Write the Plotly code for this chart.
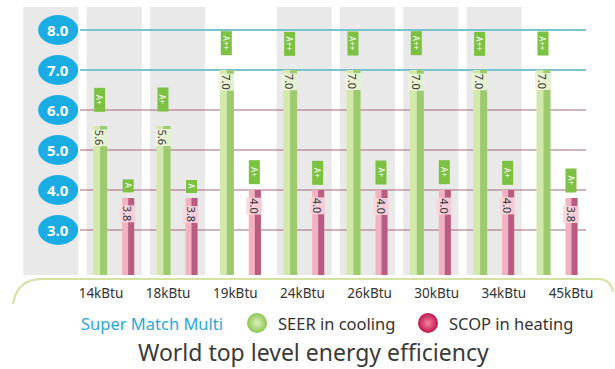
import plotly.graph_objects as go

# ---- data ----
categories = ["14kBtu", "18kBtu", "19kBtu", "24kBtu", "26kBtu", "30kBtu", "34kBtu", "45kBtu"]
seer = [5.6, 5.6, 7.0, 7.0, 7.0, 7.0, 7.0, 7.0]
scop = [3.8, 3.8, 4.0, 4.0, 4.0, 4.0, 4.0, 3.8]
seer_class = ["A+", "A+", "A++", "A++", "A++", "A++", "A++", "A++"]
scop_class = ["A", "A", "A+", "A+", "A+", "A+", "A+", "A+"]
y_ticks = [3.0, 4.0, 5.0, 6.0, 7.0, 8.0]
shaded = [True, True, False, True, True, True, True, False]
series_names = ["SEER in cooling", "SCOP in heating"]

idx = list(range(len(categories)))

# ---- geometry / style ----
W, H = 615, 369
ML, MR, MT, MB = 16, 29, 7, 0
PLOT_BOTTOM = 275                      # page y of the bar baseline
PW = W - ML - MR
PH = H - MT - MB
Y_DOMAIN0 = (H - PLOT_BOTTOM) / PH

Y_MIN, Y_MAX = 1.875, 8.575
X_MIN, X_MAX = -1.55, 7.45
AXIS_COL = -1                          # column holding the round value badges
BAND_HALF = 0.435
SEER_OFF, SEER_W = -0.332, 0.221
SCOP_OFF, SCOP_W = 0.126, 0.19
SEER_C = SEER_OFF + SEER_W / 2
SCOP_C = SCOP_OFF + SCOP_W / 2


def px(x):
    return (x - ML) / PW


def py(y):
    return (H - MB - y) / PH


fig = go.Figure()

# SEER bars: pale body with a darker right-hand stripe
fig.add_bar(x=idx, y=seer, width=SEER_W, offset=SEER_OFF,
            marker=dict(color="#d3e8ab", line_width=0),
            showlegend=False, hoverinfo="skip")
fig.add_bar(x=idx, y=seer, width=SEER_W / 2, offset=SEER_OFF + SEER_W / 2,
            marker=dict(color="#9dca6e", line_width=0),
            showlegend=False, hoverinfo="skip")
# SCOP bars
fig.add_bar(x=idx, y=scop, width=SCOP_W, offset=SCOP_OFF,
            marker=dict(color="#f3b2c2", line_width=0),
            showlegend=False, hoverinfo="skip")
fig.add_bar(x=idx, y=scop, width=SCOP_W / 2, offset=SCOP_OFF + SCOP_W / 2,
            marker=dict(color="#b95c82", line_width=0),
            showlegend=False, hoverinfo="skip")

# invisible trace carrying the category label axis
fig.add_scatter(x=idx, y=[None] * len(idx), xaxis="x2", mode="markers",
                showlegend=False, hoverinfo="skip")

# key balls, drawn on a page-pixel helper axis below the chart
key_x = [257, 428]
key_y = [323, 323]
fig.add_scatter(x=key_x, y=key_y, xaxis="x3", yaxis="y3", mode="markers",
                showlegend=False, hoverinfo="skip", cliponaxis=False,
                marker=dict(size=20, color=["#8cc653", "#c0154c"],
                            gradient=dict(type="radial", color=["#dff0c0", "#f4849f"]),
                            line_width=0))

shapes = []
# grey column bands
for i, s in zip([AXIS_COL] + idx, [True] + shaded):
    if s:
        shapes.append(dict(type="rect", xref="x", yref="y domain",
                           x0=i - BAND_HALF, x1=i + BAND_HALF, y0=0, y1=1,
                           fillcolor="#e9e9ea", line_width=0, layer="below"))
# value lines
for v in y_ticks:
    top = v >= 7
    shapes.append(dict(type="line", xref="x", yref="y",
                       x0=AXIS_COL + 0.46, x1=X_MAX, y0=v, y1=v,
                       line=dict(color="#78c3cc" if top else "#a66878",
                                 width=2 if top else 1),
                       layer="below"))
# round value badges
for v in y_ticks:
    shapes.append(dict(type="circle", xref="x", yref="y",
                       x0=AXIS_COL + 0.115 - 0.316, x1=AXIS_COL + 0.115 + 0.316,
                       y0=v - 0.375, y1=v + 0.375,
                       fillcolor="#19ade4", line_width=0, layer="above"))
# bracket under the category labels
shapes.append(dict(type="path", xref="paper", yref="paper",
                   path=(f"M {px(13)},{py(304)} Q {px(17)},{py(279)} {px(42)},{py(279)} "
                         f"L {px(598)},{py(279)} Q {px(611)},{py(279)} {px(613)},{py(292)}"),
                   line=dict(color="#d6e2a2", width=2)))

ann = []
for v in y_ticks:
    ann.append(dict(x=AXIS_COL + 0.115, y=v, xref="x", yref="y", text=f"{v:.1f}",
                    showarrow=False,
                    font=dict(family="Open Sans", size=15, color="white", weight="bold")))

for i in idx:
    for val, cls, cx, gap, lab_bg in ((seer[i], seer_class[i], i + SEER_C, 14, "rgba(236,244,218,0.9)"),
                                      (scop[i], scop_class[i], i + SCOP_C, 5, "rgba(249,214,222,0.9)")):
        ann.append(dict(x=cx, y=val, xref="x", yref="y", text=cls, showarrow=False,
                        textangle=90, yanchor="bottom", yshift=gap,
                        width=21 if len(cls) > 1 else 10, height=8,
                        bgcolor="#7cc142", borderpad=1,
                        font=dict(family="Noto Sans", size=8, color="white")))
        ann.append(dict(x=cx, y=val, xref="x", yref="y", text=f"{val:.1f}",
                        showarrow=False, textangle=90, yanchor="top",
                        yshift=-3 if val > 5 else -7,
                        bgcolor=lab_bg, borderpad=0,
                        font=dict(family="Noto Sans", size=11, color="#333333")))

# key texts
ann.append(dict(x=px(79), y=py(323), xref="paper", yref="paper", xanchor="left",
                yanchor="middle", text="Super Match Multi", showarrow=False,
                font=dict(family="Noto Sans", size=16.5, color="#2ba9dc")))
for kx, name in zip(key_x, series_names):
    ann.append(dict(x=px(kx + 19), y=py(323), xref="paper", yref="paper", xanchor="left",
                    yanchor="middle", text=name, showarrow=False,
                    font=dict(family="Noto Sans", size=16.5, color="#333333")))

ann.append(dict(x=px(313), y=py(352), xref="paper", yref="paper",
                xanchor="center", yanchor="middle",
                text="World top level energy efficiency", showarrow=False,
                font=dict(family="Noto Sans", size=23, color="#3a3a3a")))

# label axis is spread slightly wider than the bar groups
lab_left, lab_step = 101, 67.14
x2_min = -(lab_left - ML) / lab_step
x2_max = x2_min + PW / lab_step

fig.update_layout(
    width=W, height=H,
    margin=dict(l=ML, r=MR, t=MT, b=MB),
    paper_bgcolor="white", plot_bgcolor="rgba(0,0,0,0)",
    barmode="overlay",
    showlegend=False,
    xaxis=dict(range=[X_MIN, X_MAX], showticklabels=False, showgrid=False,
               zeroline=False, showline=False, fixedrange=True, anchor="y"),
    xaxis2=dict(range=[x2_min, x2_max], overlaying="x", anchor="y", side="bottom",
                tickvals=idx, ticktext=categories, showgrid=False, zeroline=False,
                showline=False, ticks="outside", ticklen=6, tickcolor="rgba(0,0,0,0)",
                tickfont=dict(family="Noto Sans", size=13.5, color="#333333")),
    yaxis=dict(range=[Y_MIN, Y_MAX], domain=[Y_DOMAIN0, 1], showticklabels=False,
               showgrid=False, zeroline=False, showline=False, fixedrange=True),
    xaxis3=dict(range=[ML, W - MR], domain=[0, 1], anchor="y3", visible=False,
                fixedrange=True),
    yaxis3=dict(range=[H - MB, PLOT_BOTTOM], domain=[0, Y_DOMAIN0], anchor="x3",
                visible=False, fixedrange=True),
    shapes=shapes,
    annotations=ann,
)

fig.write_html("out.html")
